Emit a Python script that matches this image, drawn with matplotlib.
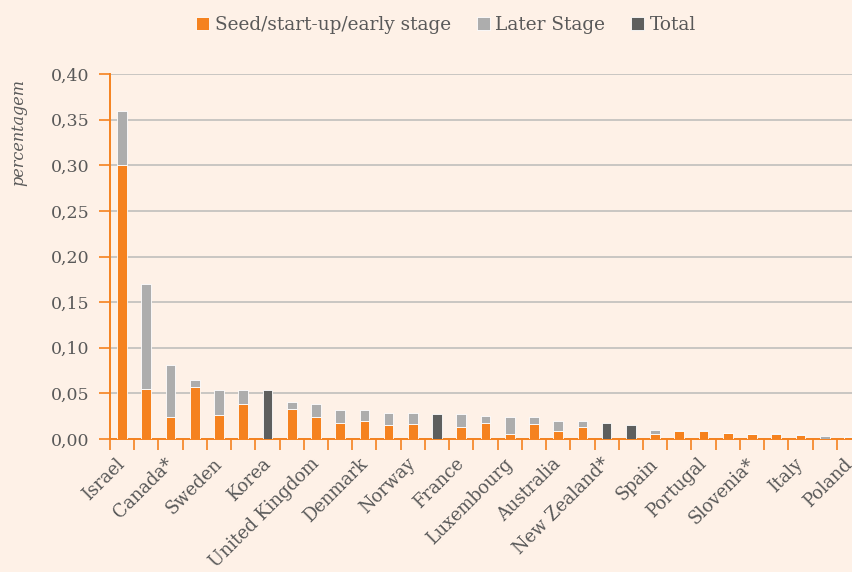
import matplotlib.pyplot as plt
import numpy as np

# venture capital investment by stage, % of GDP
labels = ['Israel', '', 'Canada*', '', 'Sweden', '', 'Korea', '', 'United Kingdom', '',
          'Denmark', '', 'Norway', '', 'France', '', 'Luxembourg', '', 'Australia', '',
          'New Zealand*', '', 'Spain', '', 'Portugal', '', 'Slovenia*', '', 'Italy', '', 'Poland']
seed = [0.300, 0.055, 0.024, 0.057, 0.026, 0.038, 0.0, 0.033, 0.024, 0.017,
        0.020, 0.015, 0.016, 0.0, 0.013, 0.017, 0.006, 0.016, 0.009, 0.013,
        0.0, 0.0, 0.006, 0.009, 0.009, 0.007, 0.005, 0.005, 0.004, 0.0005, 0.002]
later = [0.060, 0.115, 0.057, 0.008, 0.028, 0.016, 0.0, 0.008, 0.014, 0.015,
         0.012, 0.014, 0.012, 0.0, 0.014, 0.008, 0.018, 0.008, 0.011, 0.007,
         0.0, 0.0, 0.004, 0.001, 0.001, 0.0, 0.0, 0.0015, 0.001, 0.003, 0.001]
total = [0.0, 0.0, 0.0, 0.0, 0.0, 0.0, 0.054, 0.0, 0.0, 0.0,
         0.0, 0.0, 0.0, 0.027, 0.0, 0.0, 0.0, 0.0, 0.0, 0.0,
         0.017, 0.015, 0.0, 0.0, 0.0, 0.0, 0.0, 0.0, 0.0, 0.0, 0.0]
yticks = [0.0, 0.05, 0.10, 0.15, 0.20, 0.25, 0.30, 0.35, 0.40]

BG = '#FEF1E7'
ORANGE = '#F5821F'
GREY = '#ADADAD'
DARK = '#5E5F5E'
TXT = '#595959'
plt.rcParams['font.family'] = ['DejaVu Serif']

fig = plt.figure(figsize=(8.53, 5.72), dpi=100, facecolor=BG)
ax = fig.add_axes([110 / 853, 133 / 572, 751 / 853, 365 / 572], facecolor=BG)

x = np.arange(len(labels))
w = 0.40
edge = dict(edgecolor='#FFFFFF', linewidth=0.6)
ax.bar(x, seed, w, color=ORANGE, label='Seed/start-up/early stage', zorder=3, **edge)
ax.bar(x, later, w, bottom=seed, color=GREY, label='Later Stage', zorder=3, **edge)
ax.bar(x, total, w, color=DARK, label='Total', zorder=3, **edge)

ax.set_xlim(-0.5, len(labels) - 0.5)
ax.set_ylim(0, 0.40)
ax.set_yticks(yticks)
ax.set_yticklabels([f'{v:.2f}'.replace('.', ',') for v in yticks], fontsize=12.5, color=TXT)
ax.yaxis.grid(True, color='#C9C6C3', linewidth=1.4, zorder=0)

# category boundaries carry the ticks, names sit under the bars
ax.set_xticks(np.arange(-0.5, len(labels), 1.0))
ax.set_xticklabels([])
ax.set_xticks(x, minor=True)
ax.set_xticklabels(labels, minor=True, rotation=45, ha='right', va='center',
                   rotation_mode='anchor', fontsize=12.8, color=TXT)
ax.tick_params(axis='x', which='major', length=8, color=ORANGE, width=1.2)
ax.tick_params(axis='x', which='minor', length=0, pad=16)
ax.tick_params(axis='y', length=8, color=ORANGE, width=1.2, pad=7)

for s in ['top', 'right']:
    ax.spines[s].set_visible(False)
for s in ['left', 'bottom']:
    ax.spines[s].set_color(ORANGE)
    ax.spines[s].set_linewidth(1.4)

fig.text(19 / 853, 1 - 133 / 572, 'percentagem', rotation=90, style='italic',
         fontsize=11.5, color=TXT, ha='center', va='center')

fig.legend(loc='center', bbox_to_anchor=(446 / 853, 1 - 25 / 572), ncol=3, frameon=False,
           fontsize=13.3, labelcolor=TXT, handlelength=0.7, handleheight=0.7,
           handletextpad=0.3, columnspacing=1.4)

fig.savefig('out.png', dpi=100, facecolor=BG)
